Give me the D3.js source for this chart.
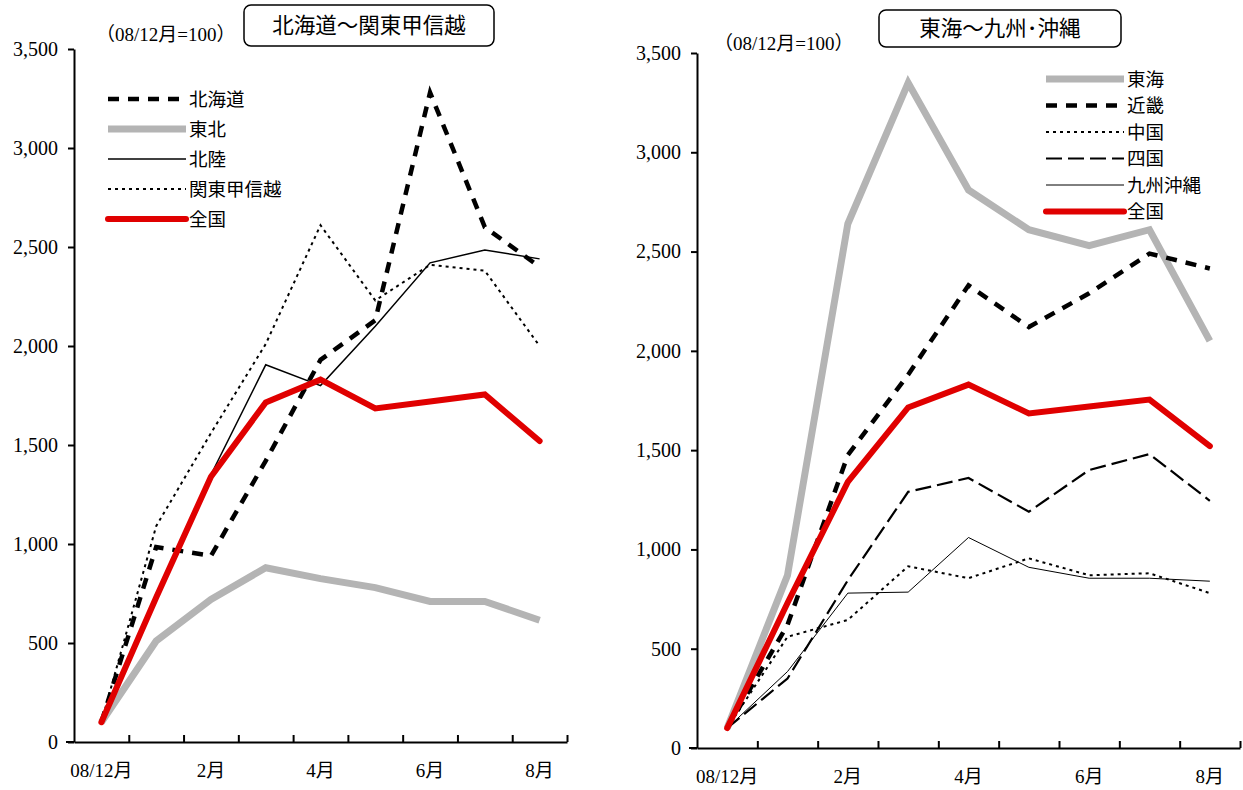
<!DOCTYPE html>
<html>
<head>
<meta charset="utf-8">
<script src="https://cdn.jsdelivr.net/npm/d3@7"></script>
<style>
  body { margin: 0; background: #fff; }
  .axis path, .axis line { stroke: #000; stroke-width: 2; }
</style>
</head>
<body>
<div id="container"></div>
<script>
/* DATA */
const months = ["08/12月", "1月", "2月", "3月", "4月", "5月", "6月", "7月", "8月"];
const yTicks = [0, 500, 1000, 1500, 2000, 2500, 3000, 3500];

const zenkoku   = [100, 730, 1340, 1715, 1830, 1685, 1720, 1755, 1520];
const hokkaido  = [100, 985, 940, 1420, 1930, 2130, 3280, 2600, 2400];
const tohoku    = [100, 510, 720, 880, 825, 780, 710, 710, 615];
const hokuriku  = [100, 720, 1350, 1905, 1800, 2100, 2420, 2485, 2440];
const kanto     = [100, 1090, 1560, 2010, 2610, 2230, 2410, 2380, 2000];

const tokai     = [100, 870, 2640, 3350, 2810, 2610, 2530, 2610, 2050];
const kinki     = [100, 620, 1475, 1880, 2330, 2120, 2290, 2490, 2415];
const chugoku   = [100, 560, 645, 915, 855, 955, 870, 880, 780];
const shikoku   = [100, 350, 845, 1290, 1360, 1190, 1400, 1480, 1245];
const kyushu    = [100, 385, 780, 785, 1060, 910, 855, 855, 840];

const SERIF = "'Liberation Serif', 'Noto Sans CJK JP', serif";
const GOTHIC = "'Noto Sans CJK JP', sans-serif";

/* STYLES */
const styles = {
    red:    { color: "#e00000", width: 6, dash: null, cap: "round" },
    gray:   { color: "#b4b4b4", width: 7, dash: null, cap: "butt" },
    thickDash: { color: "#000", width: 4.5, dash: "11,9", cap: "butt" },
    dot:    { color: "#000", width: 2, dash: "3,4", cap: "butt" },
    longDash: { color: "#000", width: 2.2, dash: "16,6", cap: "butt" },
    thin:   { color: "#000", width: 1.5, dash: null, cap: "butt" },
    hair:   { color: "#000", width: 1, dash: null, cap: "butt" }
};

const panels = [
    {
        x0: 74, x1: 567, y0: 742, y1: 49,
        title: "北海道〜関東甲信越", box: [244, 5, 250, 41],
        note: "（08/12月=100）", noteX: 96, noteY: 41,
        legX: 108, legY: 99, legStep: 30,
        series: [
            { name: "北海道", values: hokkaido, style: styles.thickDash },
            { name: "東北", values: tohoku, style: styles.gray },
            { name: "北陸", values: hokuriku, style: styles.thin },
            { name: "関東甲信越", values: kanto, style: styles.dot },
            { name: "全国", values: zenkoku, style: styles.red }
        ],
        drawOrder: [1, 3, 2, 0, 4]
    },
    {
        x0: 697, x1: 1240, y0: 748, y1: 53,
        title: "東海〜九州･沖縄", box: [879, 10, 242, 37],
        note: "（08/12月=100）", noteX: 714, noteY: 50,
        legX: 1046, legY: 79, legStep: 26.5,
        series: [
            { name: "東海", values: tokai, style: styles.gray },
            { name: "近畿", values: kinki, style: styles.thickDash },
            { name: "中国", values: chugoku, style: styles.dot },
            { name: "四国", values: shikoku, style: styles.longDash },
            { name: "九州沖縄", values: kyushu, style: styles.hair },
            { name: "全国", values: zenkoku, style: styles.red }
        ],
        drawOrder: [0, 4, 2, 3, 1, 5]
    }
];

const svg = d3.select("#container")
    .append("svg")
    .attr("width", 1243)
    .attr("height", 790);

function applyStyle(sel, s) {
    sel.attr("fill", "none")
        .attr("stroke", s.color)
        .attr("stroke-width", s.width)
        .attr("stroke-linecap", s.cap)
        .attr("stroke-linejoin", "miter")
        .attr("stroke-dasharray", s.dash);
}

panels.forEach(p => {
    const g = svg.append("g");

    // SCALES
    const xBand = d3.scaleBand().domain(months).range([p.x0, p.x1]);
    const xIdx = d3.scaleLinear().domain([0, months.length]).range([p.x0, p.x1]);
    const yScale = d3.scaleLinear().domain([0, 3500]).range([p.y0, p.y1]);
    const xPos = i => xBand(months[i]) + xBand.bandwidth() / 2;

    // Y AXIS
    const yAxis = g.append("g")
        .attr("class", "axis")
        .attr("transform", "translate(" + p.x0 + ",0)")
        .call(d3.axisLeft(yScale).tickValues(yTicks).tickSize(6).tickSizeOuter(0).tickPadding(10)
            .tickFormat(d3.format(",")));
    yAxis.attr("font-family", SERIF).attr("font-size", 20);
    yAxis.selectAll("text").attr("fill", "#000");

    // X AXIS ticks (category boundaries, pointing up)
    g.append("g")
        .attr("class", "axis")
        .attr("transform", "translate(0," + p.y0 + ")")
        .call(d3.axisBottom(xIdx).tickValues(d3.range(1, months.length + 1)).tickSize(-7).tickSizeOuter(0).tickFormat(""));
    g.append("line")
        .attr("x1", p.x0 - 8).attr("x2", p.x0)
        .attr("y1", p.y0).attr("y2", p.y0)
        .attr("stroke", "#000").attr("stroke-width", 2);

    // X labels
    const xl = g.append("g")
        .attr("transform", "translate(0," + (p.y0 + 18) + ")")
        .call(d3.axisBottom(xBand).tickSize(0).tickFormat((d, i) => i % 2 === 0 ? d : ""));
    xl.attr("font-family", SERIF).attr("font-size", 19);
    xl.select(".domain").remove();
    xl.selectAll("text").attr("fill", "#000");

    // LINES
    const line = d3.line().x((d, i) => xPos(i)).y(d => yScale(d));
    p.drawOrder.forEach(k => {
        const s = p.series[k];
        g.append("path")
            .datum(s.values)
            .attr("d", line)
            .call(applyStyle, s.style);
    });

    // LEGEND
    p.series.forEach((s, i) => {
        const y = p.legY + i * p.legStep;
        g.append("line")
            .attr("x1", p.legX).attr("x2", p.legX + 78)
            .attr("y1", y).attr("y2", y)
            .call(applyStyle, s.style);
        g.append("text")
            .attr("font-family", GOTHIC)
            .attr("font-size", 18.5)
            .attr("x", p.legX + 81)
            .attr("y", y)
            .attr("dy", "0.36em")
            .text(s.name);
    });

    // TITLE BOX
    g.append("rect")
        .attr("x", p.box[0]).attr("y", p.box[1])
        .attr("width", p.box[2]).attr("height", p.box[3])
        .attr("rx", 7)
        .attr("fill", "#fff").attr("stroke", "#000").attr("stroke-width", 1.5);
    g.append("text")
        .attr("font-family", GOTHIC)
        .attr("font-size", 21.5)
        .attr("x", p.box[0] + p.box[2] / 2)
        .attr("y", p.box[1] + p.box[3] / 2)
        .attr("dy", "0.36em")
        .attr("text-anchor", "middle")
        .text(p.title);

    // NOTE
    g.append("text")
        .attr("font-family", SERIF)
        .attr("font-size", 19)
        .attr("x", p.noteX)
        .attr("y", p.noteY)
        .text(p.note);
});
</script>
</body>
</html>
